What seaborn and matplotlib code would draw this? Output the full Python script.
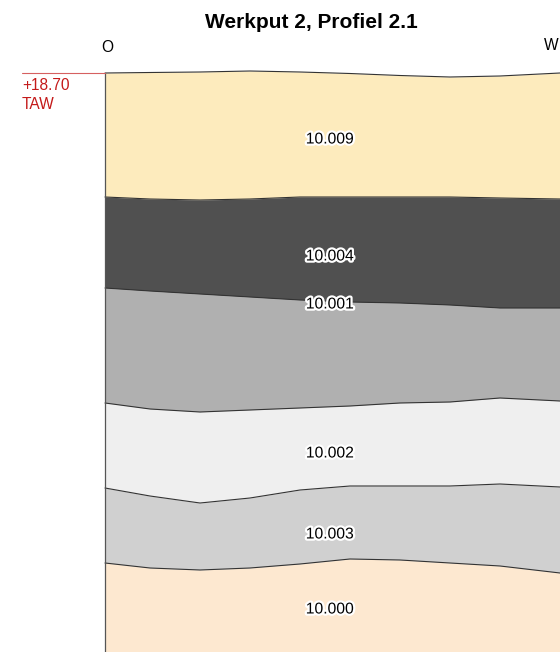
import numpy as np
import pandas as pd
import matplotlib
matplotlib.use("Agg")
import matplotlib.pyplot as plt
import matplotlib.patheffects as pe
import seaborn as sns

# ---- data (x: distance along profile, depth: below the +18.70 TAW datum; same units) ----
x_pos = [0, 45, 95, 145, 195, 245, 295, 345, 395, 455]
surface = [0, -0.5, -1, -2, -1, 0.5, 2.5, 4, 3, 0]
b_009_004 = [124, 126, 127, 126, 124, 124, 124, 124, 125, 126]
b_004_001 = [215, 218, 221, 224, 227, 229, 230, 232, 235, 235]
b_001_002 = [330, 336, 339, 337, 335, 333, 330, 329, 325, 328]
b_002_003 = [415, 423, 430, 425, 417, 413, 413, 413, 411, 414]
b_003_000 = [490, 495, 497, 495, 491, 486, 487, 490, 493, 500]
bottom = [579] * 10

layer_names = ["10.009", "10.004", "10.001", "10.002", "10.003", "10.000"]
layer_colors = ["#fdebbd", "#505050", "#b0b0b0", "#efefef", "#d0d0d0", "#fde8d0"]
label_x = [225, 225, 225, 225, 225, 225]
label_depth = [66, 183, 231, 380, 461, 536]

datum_label = "+18.70\nTAW"
title = "Werkput 2, Profiel 2.1"
left_side, right_side = "O", "W"

sns.set_theme(style="white")
plt.rcParams["font.family"] = ["Liberation Sans", "DejaVu Sans"]
plt.rcParams["text.color"] = "black"

fig = plt.figure(figsize=(5.6, 6.52), dpi=100)
ax = fig.add_axes([0, 0, 1, 1])
ax.set_xlim(-105, 455)
ax.set_ylim(579, -73)
ax.axis("off")

bounds = [surface, b_009_004, b_004_001, b_001_002, b_002_003, b_003_000, bottom]
for i, (name, col) in enumerate(zip(layer_names, layer_colors)):
    ax.fill_between(x_pos, bounds[i], bounds[i + 1], color=col, lw=0, zorder=1)

rows = []
for j, b in enumerate(bounds[:-1]):
    for xx, yy in zip(x_pos, b):
        rows.append({"x": xx, "depth": yy, "boundary": j})
df = pd.DataFrame(rows)
sns.lineplot(data=df, x="x", y="depth", units="boundary", estimator=None,
             color="#333333", lw=0.8, ax=ax, legend=False, sort=False, zorder=3)

# left edge of profile
ax.plot([0, 0], [surface[0], bottom[0]], color="#555555", lw=0.9, zorder=4)
# datum line
ax.plot([-83, 0], [0, 0], color="#d66060", lw=0.8, zorder=4)
ax.text(-83, 5, datum_label, color="#c41a1a", fontsize=11.2, va="top", ha="left",
        linespacing=1.3)

for name, lx, ly in zip(layer_names, label_x, label_depth):
    ax.text(lx, ly, name, fontsize=11.3, ha="center", va="center", color="black", zorder=5,
            path_effects=[pe.withStroke(linewidth=3.2, foreground="white")])

fig.text(311 / 560, 1 - 22 / 652, title, fontsize=15, fontweight="bold",
         ha="center", va="center", color="black")
fig.text(107 / 560, 1 - 48 / 652, left_side, fontsize=11.2, ha="center", va="center",
         color="black")
fig.text(551 / 560, 1 - 46 / 652, right_side, fontsize=11.2, ha="center", va="center",
         color="black")

fig.savefig("out.png", dpi=100)
